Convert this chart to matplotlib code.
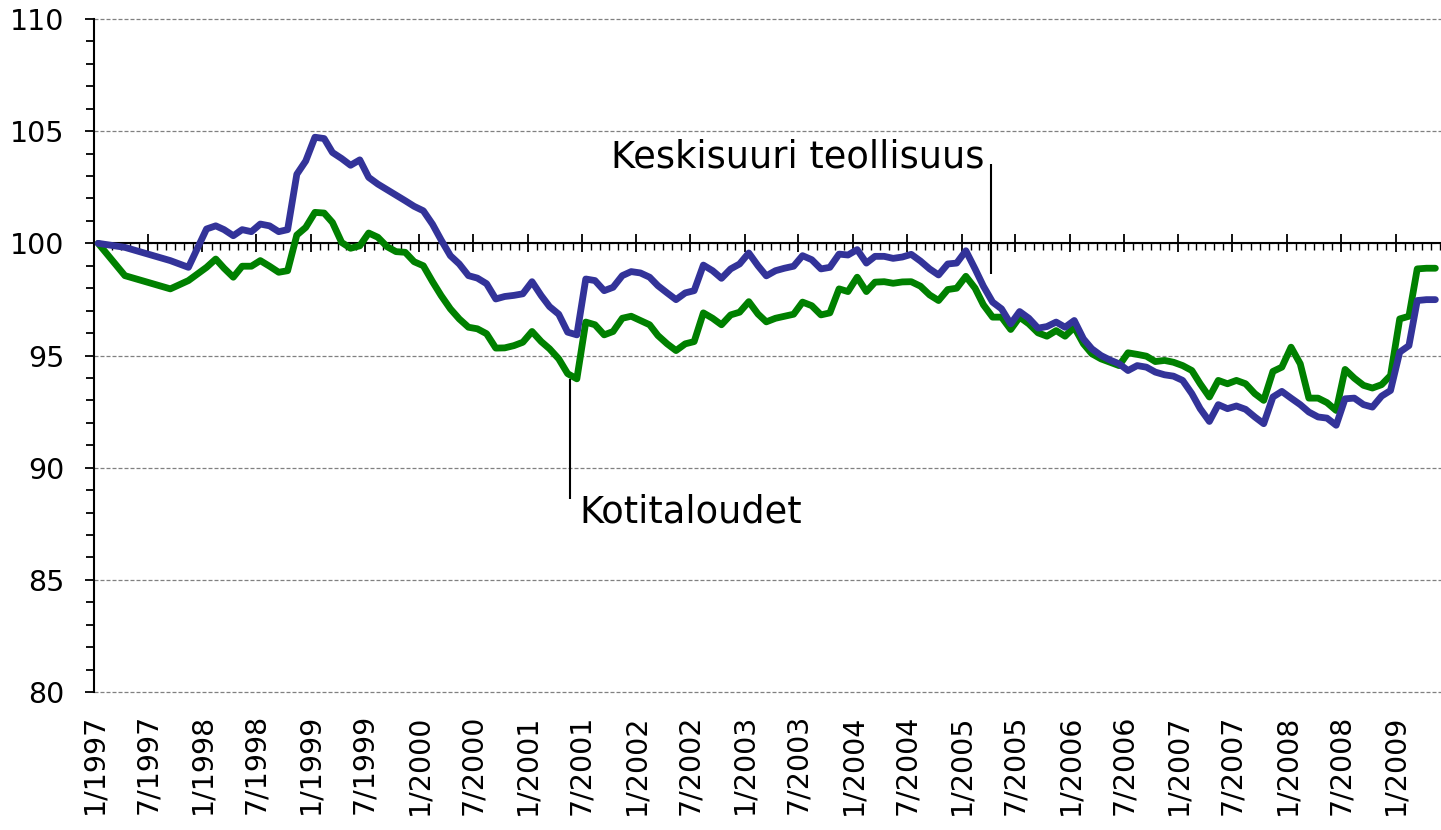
import matplotlib
matplotlib.use("Agg")
import matplotlib.pyplot as plt
import matplotlib.dates as mdates
import matplotlib.ticker as mticker
import pandas as pd
from datetime import datetime

# 1997 only has a few observations, monthly from 1/1998 on
months_1997 = ["1997-01", "1997-04", "1997-09", "1997-11"]
months_rest = [d.strftime("%Y-%m") for d in pd.date_range("1998-01", "2009-05", freq="MS")]
months = months_1997 + months_rest

# Keskisuuri teollisuus (blue)
teollisuus = [
    100.0, 99.82, 99.23, 98.93,
    100.64, 100.78, 100.61, 100.34, 100.61, 100.52, 100.86, 100.78, 100.52, 100.61, 103.08, 103.67,
    104.73, 104.67, 104.05, 103.78, 103.48, 103.72, 102.94, 102.64, 102.39, 102.15, 101.90, 101.65,
    101.45, 100.85, 100.15, 99.45, 99.08, 98.56, 98.45, 98.20, 97.52, 97.63, 97.68, 97.75,
    98.29, 97.67, 97.18, 96.84, 96.04, 95.92, 98.41, 98.34, 97.89, 98.04, 98.56, 98.74,
    98.68, 98.49, 98.11, 97.79, 97.49, 97.79, 97.89, 99.03, 98.78, 98.44, 98.86, 99.08,
    99.57, 99.00, 98.55, 98.78, 98.89, 98.98, 99.45, 99.27, 98.86, 98.93, 99.52, 99.48,
    99.72, 99.12, 99.42, 99.42, 99.33, 99.39, 99.51, 99.21, 98.86, 98.59, 99.08, 99.12,
    99.67, 98.86, 98.09, 97.38, 97.08, 96.41, 96.96, 96.66, 96.22, 96.29, 96.49, 96.26,
    96.56, 95.74, 95.30, 95.00, 94.80, 94.63, 94.33, 94.55, 94.48, 94.26, 94.14, 94.08,
    93.89, 93.30, 92.63, 92.06, 92.81, 92.63, 92.75, 92.60, 92.26, 91.96, 93.15, 93.40,
    93.10, 92.81, 92.48, 92.26, 92.21, 91.89, 93.07, 93.10, 92.81, 92.70, 93.19, 93.44,
    95.15, 95.44, 97.45, 97.49, 97.49,
]

# Kotitaloudet (green)
kotitaloudet = [
    100.0, 98.56, 97.97, 98.34,
    98.93, 99.30, 98.89, 98.49, 98.98, 98.98, 99.23, 98.98, 98.71, 98.78, 100.37, 100.71,
    101.38, 101.35, 100.93, 100.04, 99.78, 99.89, 100.46, 100.27, 99.85, 99.63, 99.60, 99.18,
    99.00, 98.29, 97.67, 97.08, 96.63, 96.26, 96.19, 95.97, 95.33, 95.34, 95.44, 95.59,
    96.07, 95.62, 95.30, 94.85, 94.19, 93.96, 96.49, 96.37, 95.92, 96.07, 96.66, 96.75,
    96.56, 96.37, 95.89, 95.52, 95.22, 95.52, 95.62, 96.90, 96.66, 96.37, 96.81, 96.93,
    97.40, 96.85, 96.50, 96.66, 96.75, 96.84, 97.38, 97.22, 96.81, 96.90, 97.97, 97.85,
    98.49, 97.85, 98.27, 98.29, 98.22, 98.28, 98.29, 98.09, 97.70, 97.45, 97.94, 98.00,
    98.53, 98.00, 97.26, 96.71, 96.71, 96.16, 96.71, 96.41, 96.01, 95.86, 96.11, 95.86,
    96.26, 95.52, 95.08, 94.85, 94.70, 94.55, 95.12, 95.05, 94.97, 94.73, 94.78, 94.70,
    94.55, 94.33, 93.74, 93.15, 93.89, 93.74, 93.89, 93.74, 93.30, 93.00, 94.29, 94.48,
    95.37, 94.63, 93.10, 93.10, 92.90, 92.55, 94.38, 93.99, 93.67, 93.55, 93.70, 94.11,
    96.63, 96.75, 98.86, 98.89, 98.89,
]

# monthly figures sit in the middle of the month
x = pd.to_datetime(months) + pd.Timedelta(days=14)

plt.rcParams["font.family"] = ["DejaVu Sans"]

fig = plt.figure(figsize=(14.41, 8.30), dpi=100)
ax = fig.add_axes([94 / 1441, 1 - 692 / 830, 1 - 94 / 1441, (692 - 19) / 830])

ax.plot(x, kotitaloudet, color="#008000", lw=4.9, solid_joinstyle="round", solid_capstyle="round", zorder=3)
ax.plot(x, teollisuus, color="#333399", lw=4.9, solid_joinstyle="round", solid_capstyle="round", zorder=4)

ax.set_xlim(datetime(1997, 1, 1), datetime(2009, 6, 3))
ax.set_ylim(80, 110)

# y axis
ax.yaxis.set_major_locator(mticker.MultipleLocator(5))
ax.yaxis.set_minor_locator(mticker.MultipleLocator(1))
ax.tick_params(axis="y", which="major", direction="out", length=6.5, width=1.3, labelsize=20.5, pad=15)
ax.tick_params(axis="y", which="minor", direction="out", length=5.5, width=1.3)
ax.yaxis.grid(True, which="major", color="#808080", linestyle=(0, (3.2, 1.6)), lw=0.9)
for gl in ax.get_ygridlines():
    gl.set_clip_on(False)
ax.set_axisbelow(True)

for s in ["top", "right"]:
    ax.spines[s].set_visible(False)
ax.spines["left"].set_linewidth(1.5)
ax.spines["bottom"].set_position(("data", 100))
ax.spines["bottom"].set_linewidth(1.5)
ax.spines["bottom"].set_zorder(2.5)

# x axis ticks on the 100 line
ax.xaxis.set_major_locator(mdates.MonthLocator(bymonth=(1, 7)))
ax.xaxis.set_minor_locator(mdates.MonthLocator())
ax.tick_params(axis="x", which="major", direction="inout", length=13.5, width=1.3, labelbottom=False)
ax.tick_params(axis="x", which="minor", direction="out", length=5, width=1.0)

# x labels at the bottom of the plot
secax = ax.secondary_xaxis("bottom")
secax.xaxis.set_major_locator(mdates.MonthLocator(bymonth=(1, 7)))
secax.xaxis.set_major_formatter(
    mticker.FuncFormatter(lambda v, pos: "%d/%d" % (mdates.num2date(v).month, mdates.num2date(v).year))
)
secax.tick_params(axis="x", length=0, labelsize=20.5, labelrotation=90, pad=16)
secax.spines["bottom"].set_visible(False)

# series labels with leader lines
ax.vlines(datetime(2005, 4, 9), 98.63, 103.53, color="black", lw=1.5, zorder=5)
ax.text(datetime(2005, 3, 20), 103.39, "Keskisuuri teollisuus", ha="right", va="baseline", fontsize=26.5)
ax.vlines(datetime(2001, 5, 24), 88.62, 93.96, color="black", lw=1.5, zorder=5)
ax.text(datetime(2001, 6, 24), 87.56, "Kotitaloudet", ha="left", va="baseline", fontsize=26.5)

fig.savefig("out.png", dpi=100)
